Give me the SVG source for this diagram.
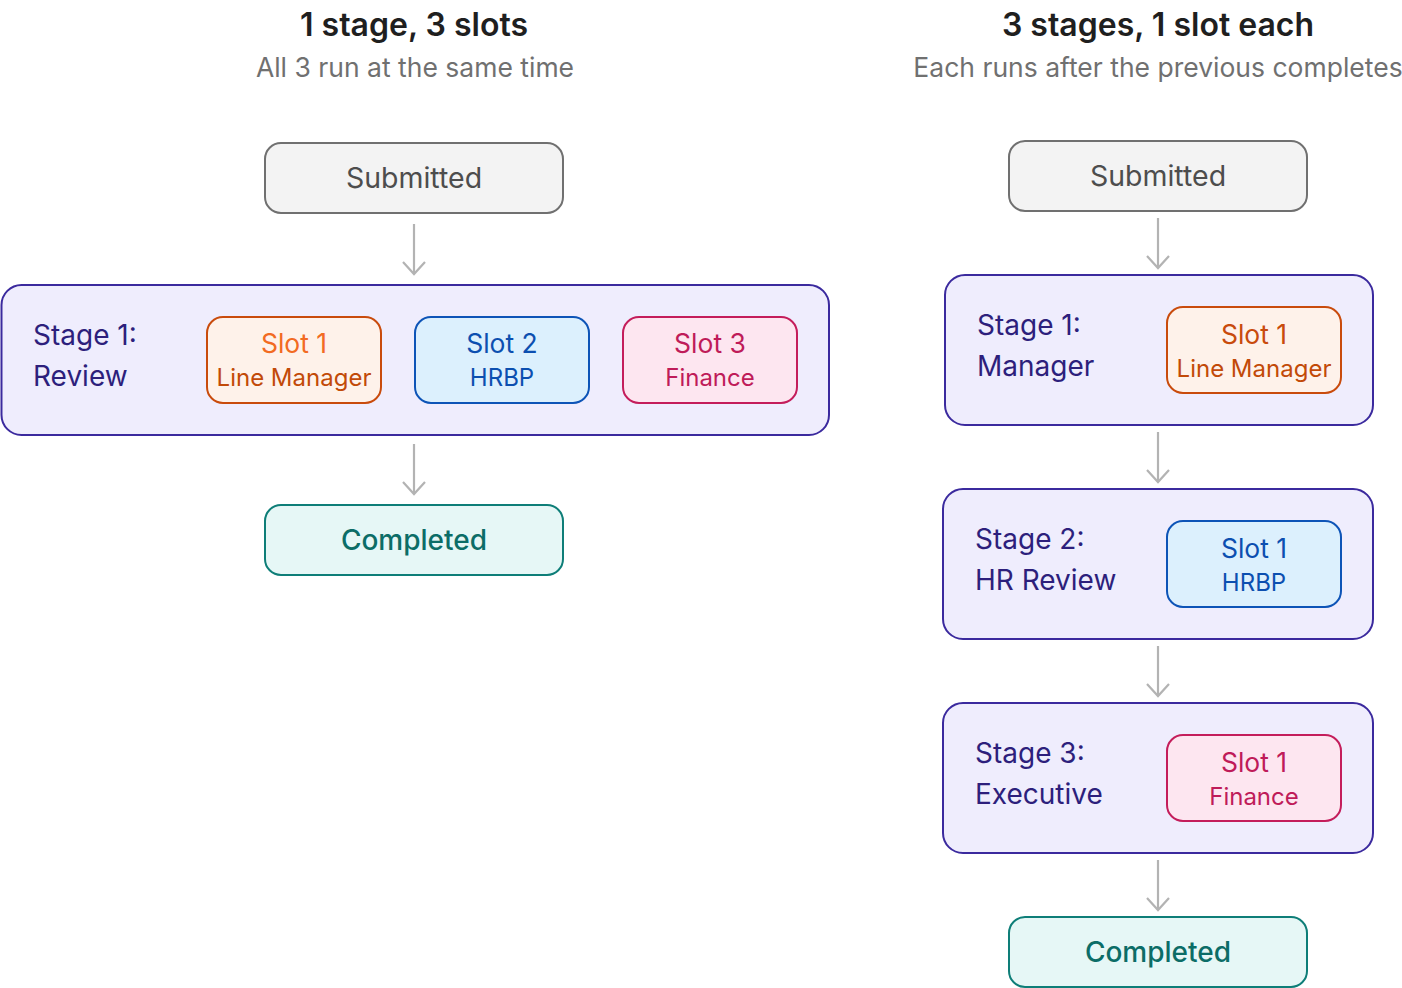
<svg xmlns="http://www.w3.org/2000/svg" width="1402" height="988" viewBox="0 0 1402 988">
  <defs>
    <!-- open chevron arrowhead, drawn pointing along +x -->
    <marker id="chev" markerUnits="userSpaceOnUse" markerWidth="16" markerHeight="28" refX="14" refY="14" orient="auto" viewBox="0 0 16 28">
      <path d="M2 3 L14 14 L2 25" fill="none" stroke="#b3b3b3" stroke-width="2.2"/>
    </marker>
  </defs>
  <style>
    text { font-family: Inter, "Noto Sans", "Liberation Sans", sans-serif; }
    .title { font-size: 32px; font-weight: 600; fill: #1f1f1f; text-anchor: middle; }
    .sub { font-size: 26.5px; fill: #707070; text-anchor: middle; }
    .submitted rect { fill: #f3f3f3; stroke: #707070; stroke-width: 2; }
    .submitted text { fill: #4d4d4d; font-size: 28.5px; text-anchor: middle; }
    .completed rect { fill: #e6f7f6; stroke: #0e7e78; stroke-width: 2; }
    .completed text { fill: #0c6d67; font-size: 28px; font-weight: 500; text-anchor: middle; }
    .stage > rect { fill: #efedfd; stroke: #3b2a9e; stroke-width: 2; }
    .stage > text { fill: #2d1f7c; font-size: 28px; }
    .slot text { text-anchor: middle; }
    .slot .n { font-size: 26.5px; }
    .slot .r { font-size: 24px; }
    .orange rect { fill: #fef2ea; stroke: #c94b0c; stroke-width: 2; }
    .orange .n { fill: #f26b22; }
    .orange .r { fill: #c24a08; }
    .orange2 .n { fill: #c84b0c; }
    .blue rect { fill: #dcf0fd; stroke: #0d54b7; stroke-width: 2; }
    .blue text { fill: #0c4fb0; }
    .pink rect { fill: #fde6f0; stroke: #c41d5b; stroke-width: 2; }
    .pink text { fill: #bf1b59; }
    .conn line { stroke: #b3b3b3; stroke-width: 2.2; marker-end: url(#chev); }
  </style>

  <rect x="0" y="0" width="1402" height="988" fill="#ffffff"/>

  <!-- headings -->
  <text class="title" x="414" y="36">1 stage, 3 slots</text>
  <text class="sub" x="415" y="77">All 3 run at the same time</text>
  <text class="title" x="1158" y="36">3 stages, 1 slot each</text>
  <text class="sub" x="1158" y="77">Each runs after the previous completes</text>

  <!-- connectors -->
  <g id="connectors" class="conn">
    <line x1="414" y1="224" x2="414" y2="274"/>
    <line x1="414" y1="444" x2="414" y2="494"/>
    <line x1="1158" y1="218" x2="1158" y2="268"/>
    <line x1="1158" y1="432" x2="1158" y2="482"/>
    <line x1="1158" y1="646" x2="1158" y2="696"/>
    <line x1="1158" y1="860" x2="1158" y2="910"/>
  </g>

  <!-- parallel layout -->
  <g id="left-submitted" class="submitted">
    <rect x="265" y="143" width="298" height="70" rx="16"/>
    <text x="414" y="188">Submitted</text>
  </g>
  <g id="left-stage1" class="stage">
    <rect x="1.5" y="285" width="827.5" height="150" rx="20"/>
    <text x="33" y="345">Stage 1:</text>
    <text x="33" y="386">Review</text>
    <g id="left-slot1" class="slot orange">
      <rect x="207" y="317" width="174" height="86" rx="16"/>
      <text class="n" x="294" y="353">Slot 1</text>
      <text class="r" x="294" y="386">Line Manager</text>
    </g>
    <g id="left-slot2" class="slot blue">
      <rect x="415" y="317" width="174" height="86" rx="16"/>
      <text class="n" x="502" y="353">Slot 2</text>
      <text class="r" x="502" y="386">HRBP</text>
    </g>
    <g id="left-slot3" class="slot pink">
      <rect x="623" y="317" width="174" height="86" rx="16"/>
      <text class="n" x="710" y="353">Slot 3</text>
      <text class="r" x="710" y="386">Finance</text>
    </g>
  </g>
  <g id="left-completed" class="completed">
    <rect x="265" y="505" width="298" height="70" rx="16"/>
    <text x="414" y="550">Completed</text>
  </g>

  <!-- sequential layout -->
  <g id="right-submitted" class="submitted">
    <rect x="1009" y="141" width="298" height="70" rx="16"/>
    <text x="1158" y="186">Submitted</text>
  </g>
  <g id="right-stage1" class="stage">
    <rect x="945" y="275" width="428" height="150" rx="20"/>
    <text x="977" y="335">Stage 1:</text>
    <text x="977" y="376">Manager</text>
    <g id="right-stage1-slot" class="slot orange orange2">
      <rect x="1167" y="307" width="174" height="86" rx="16"/>
      <text class="n" x="1254" y="344">Slot 1</text>
      <text class="r" x="1254" y="377">Line Manager</text>
    </g>
  </g>
  <g id="right-stage2" class="stage">
    <rect x="943" y="489" width="430" height="150" rx="20"/>
    <text x="975" y="549">Stage 2:</text>
    <text x="975" y="590">HR Review</text>
    <g id="right-stage2-slot" class="slot blue">
      <rect x="1167" y="521" width="174" height="86" rx="16"/>
      <text class="n" x="1254" y="558">Slot 1</text>
      <text class="r" x="1254" y="591">HRBP</text>
    </g>
  </g>
  <g id="right-stage3" class="stage">
    <rect x="943" y="703" width="430" height="150" rx="20"/>
    <text x="975" y="763">Stage 3:</text>
    <text x="975" y="804">Executive</text>
    <g id="right-stage3-slot" class="slot pink">
      <rect x="1167" y="735" width="174" height="86" rx="16"/>
      <text class="n" x="1254" y="772">Slot 1</text>
      <text class="r" x="1254" y="805">Finance</text>
    </g>
  </g>
  <g id="right-completed" class="completed">
    <rect x="1009" y="917" width="298" height="70" rx="16"/>
    <text x="1158" y="962">Completed</text>
  </g>
</svg>
